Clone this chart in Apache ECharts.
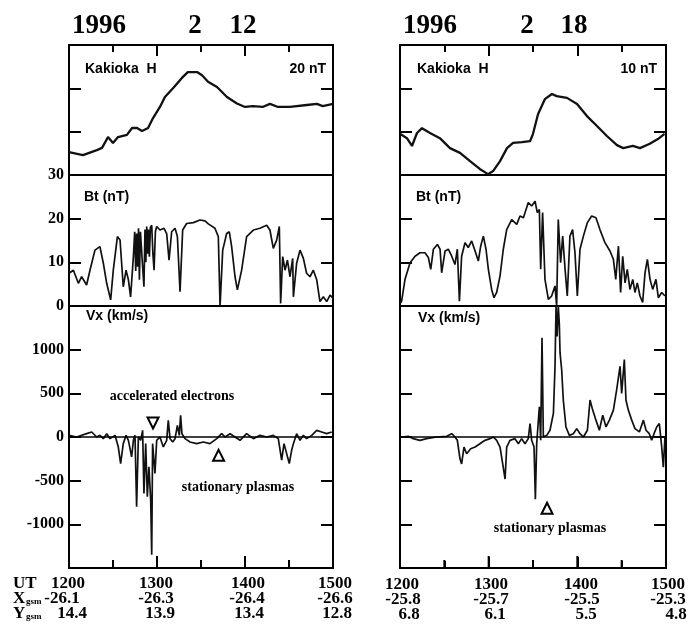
<!DOCTYPE html>
<html>
<head>
<meta charset="utf-8">
<script src="https://cdn.jsdelivr.net/npm/echarts@6/dist/echarts.min.js"></script>
<style>html,body{margin:0;padding:0;background:#fff}#main{width:697px;height:630px}</style>
</head>
<body>
<div id="main"></div>
<script>
// time in minutes after 1200 UT
// Kakioka H, 1996-02-12 (relative nT)
var hTime1 = [0, 9.5, 19, 22.5, 26.6, 30, 33.4, 39.5, 43, 46.4, 49.8, 53.9, 57.3, 62, 65.4, 70.9, 77, 81, 87.3, 90.7, 94.8, 100.9, 107.7, 114.5, 120, 125.4, 132, 137, 142.5, 150.6, 162.2, 169, 173, 180];
var hVal1 = [10.6, 9.2, 11.5, 12.5, 17.5, 14.8, 17.5, 18.5, 21.7, 21.7, 20.3, 21.7, 26.3, 31.4, 36, 40, 44.8, 47.5, 47.5, 46, 43, 40.6, 36, 33, 31.4, 31.8, 31.4, 32.8, 31.4, 31.4, 32.3, 32.8, 31.8, 32.8];
// Kakioka H, 1996-02-18
var hTime2 = [0, 4.7, 8.1, 11.5, 14.9, 20.3, 27, 33.8, 40.6, 47.4, 54, 59.5, 63, 67.7, 72.4, 76.5, 82.6, 88, 90, 93.4, 98, 102.8, 106, 113, 119.8, 126.5, 133.3, 140, 146.8, 151, 157.6, 162.4, 169, 174.5, 179];
var hVal2 = [9.5, 8.5, 6.7, 9.7, 10.8, 9.7, 8.5, 6.2, 5.1, 3.2, 1.4, 0.2, 0.9, 3.2, 6.2, 7.4, 7.6, 7.8, 9.5, 14, 17.5, 18.7, 18.2, 17.8, 16.4, 13.6, 11.3, 9, 6.9, 6.2, 6.7, 6.2, 7.2, 8.3, 9.5];

// Bt (nT)
var btTime1 = [0, 3, 6.4, 8.6, 12, 14.3, 17.7, 21.1, 23.4, 25.7, 28.4, 30.2, 33, 34.8, 37, 38.9, 40.5, 42, 43.9, 44.8, 45.5, 46.1, 46.8, 47.4, 48, 48.7, 49.5, 50.2, 51.1, 51.8, 52.4, 53, 53.6, 54.2, 54.8, 55.5, 56.4, 57.2, 58, 58.9, 59.8, 62, 64.8, 66.6, 68.2, 70, 72.3, 73.9, 75.7, 77.5, 80.2, 84.8, 89.3, 92.7, 95, 99.5, 101.8, 103, 104.8, 107.5, 109.3, 110.9, 113.2, 114.8, 117.7, 121.1, 125.7, 130.2, 134.8, 137, 139.3, 141.6, 143.4, 144.3, 145.7, 147.3, 148.9, 150.7, 152.5, 153, 155.2, 157.5, 159.8, 162, 164.3, 166.6, 168.9, 171.1, 173.4, 175.7, 178, 180];
var btVal1 = [7.5, 8.2, 5.2, 6.7, 4.8, 8.2, 12.8, 13.6, 9.8, 5.2, 1.4, 8.2, 15.9, 15.1, 4.4, 8.2, 6, 2.1, 11.3, 17, 8, 16.6, 9, 17.8, 6, 17, 17.4, 9, 4.4, 17.5, 10, 18.2, 12, 17.5, 11.3, 18, 18.5, 12, 8.2, 17, 18.2, 17.4, 17.8, 16.6, 10.5, 17, 17.8, 15.9, 3.3, 17.4, 18.9, 19.1, 19.7, 19.5, 18.8, 17.8, 15.9, 0, 12.8, 16.6, 17, 13.6, 6.7, 3.7, 8.2, 15.9, 17.4, 17.8, 18.5, 17.4, 13.2, 15.1, 18.2, 0.6, 11.3, 8.2, 10.5, 6.7, 10.9, 2.1, 9.8, 12.8, 10.9, 7.5, 6.7, 8.2, 6, 1, 2.1, 1, 2.5, 1.8];
var btTime2 = [0, 1.1, 3.4, 6.8, 10.2, 13.5, 16.9, 19.2, 20.8, 22.6, 25.3, 27.1, 28.2, 30.5, 32.7, 35, 37.2, 38.8, 40.2, 41.7, 44, 46.2, 48.5, 50.8, 53, 54.6, 56.4, 58.2, 59.8, 62, 63.6, 65.4, 67.7, 69.9, 72.2, 75.6, 79, 81.2, 83.5, 85.3, 86.8, 89.1, 91.4, 92.9, 94.3, 95.2, 96.5, 98.1, 100.4, 102.6, 104.9, 106, 107.1, 108.7, 110.1, 111.7, 113.2, 115, 116.8, 118.4, 120, 121.8, 124.1, 126.8, 129.7, 132.6, 135.3, 138.7, 142.1, 144.4, 146, 147.8, 149.3, 150.7, 152.3, 153.8, 155.6, 157.5, 159, 160.6, 162.4, 164.2, 165.8, 167.4, 169.2, 171, 173.2, 174.8, 177.1, 179.3];
var btVal2 = [0.5, 1.1, 6.1, 9.9, 11.4, 12.2, 12.2, 11.1, 8.4, 13, 14.1, 13, 7.6, 12.6, 13, 11.4, 9.5, 13, 1.1, 11.4, 14.5, 13.4, 14.9, 12.6, 10.3, 13.7, 16, 13, 8.4, 3.8, 1.9, 3.1, 6.9, 13, 17.5, 19.8, 18.7, 20.6, 20.2, 22.1, 23.7, 22.9, 24, 21.4, 22.1, 8.4, 21.4, 6.1, 1.5, 2.3, 4.6, 0, 19.8, 9.9, 16, 8.4, 2.3, 16, 17.5, 12.2, 2.3, 13, 16, 19.1, 20.6, 20.2, 17.5, 14.5, 12.6, 10.7, 6.1, 13.7, 3.1, 11.4, 5.3, 8.4, 3.8, 6.1, 3.1, 5.3, 2.3, 0.8, 7.6, 10.7, 6.1, 3.8, 6.1, 1.9, 3.1, 2.3];

// Vx (km/s)
var vxTime1 = [0, 5.2, 12, 15.5, 18.9, 21.1, 23.4, 25.7, 28, 31.4, 33.6, 35.2, 37, 38.9, 40.5, 42.7, 43.9, 45, 46.1, 47.3, 48.9, 50.2, 51.1, 52.3, 53.4, 54.5, 55.7, 56.4, 57, 58.6, 59.8, 62, 64.3, 66.6, 67.7, 68.9, 70.7, 72.3, 73.9, 75.2, 76.1, 77, 79.1, 82.5, 87, 91.6, 96.1, 100.7, 104.1, 106.4, 109.8, 113.2, 116.6, 121.1, 125.7, 130.2, 134.8, 139.3, 142.7, 145, 146.6, 148.4, 150.2, 151.8, 153, 155.2, 157.5, 159.8, 162, 165.5, 168.9, 172.3, 175.7, 179.1];
var vxVal1 = [19, 0, 38, 57, 0, 19, -19, 38, -19, 19, -114, -304, -76, 19, -38, -228, -38, 19, -798, 0, -38, 76, -646, -76, -684, -342, -722, -1349, -76, -418, -38, 0, -114, -38, 190, -19, -57, -19, 133, 19, 247, 38, -19, -57, -76, -57, -76, -19, 38, 0, 38, 0, -38, 38, -19, 19, 0, 19, -19, -266, -76, -190, -304, -152, -76, 38, -38, 19, -19, 19, 76, 57, 38, 57];
var vxTime2 = [1.1, 5.6, 9, 13.5, 18, 24.8, 31.6, 35, 37.2, 38.8, 40.6, 41.7, 43.3, 45.1, 47.8, 50.8, 54.1, 57.5, 60.9, 63.2, 65.4, 67.7, 69.5, 71.1, 72.2, 74.4, 77.8, 80.1, 82.3, 84.6, 86.8, 88, 89.1, 90.7, 91.6, 92.5, 94.3, 95.2, 96.1, 97, 99.3, 101.5, 103.8, 104.9, 105.6, 106.3, 107.1, 107.8, 108.3, 109.4, 110.5, 112.3, 114.6, 117.3, 119.6, 121.8, 124.1, 126.8, 128.6, 130.4, 132.6, 134.9, 137.2, 139.4, 141.7, 144.4, 146.6, 148.9, 150, 151.8, 152.9, 154.5, 156.8, 159, 162, 164.7, 166.5, 168.7, 170.3, 171.9, 173.7, 175.5, 177.1, 178.2, 179.3];
var vxVal2 = [0, 8, -19, -38, -19, 0, 8, 38, 0, -38, -250, -308, -115, -192, -135, -115, -77, -38, -19, 0, -38, -115, -308, -481, -115, -38, -19, -77, -19, -77, -19, 154, -38, -115, -712, -77, 347, -38, 1136, 0, 19, 77, 270, 809, 1500, 1150, 1500, 1300, 963, 770, 424, 115, 19, 38, 96, 38, 0, 77, 424, 308, 193, 77, 250, 115, 193, 308, 539, 809, 500, 886, 424, 308, 193, 96, 58, 193, 77, 38, -38, 38, 115, 154, -115, -347, 0];

// time ticks along the bottom of the Vx panels (minutes after 1200)
var hourTicks = [60, 120];
var halfHourTicks = [30, 90, 150];

// bottom tick table
var utLabels = ['1200', '1300', '1400', '1500'];
var xgsm1 = ['-26.1', '-26.3', '-26.4', '-26.6'];
var ygsm1 = ['14.4', '13.9', '13.4', '12.8'];
var xgsm2 = ['-25.8', '-25.7', '-25.5', '-25.3'];
var ygsm2 = ['6.8', '6.1', '5.5', '4.8'];

var SERIF = '"Liberation Serif", "DejaVu Serif", serif';
var SANS = '"Liberation Sans", Arial, sans-serif';

var myChart = echarts.init(document.getElementById('main'));

function pairs(t, v) {
    return t.map(function (x, i) { return [x, v[i]]; });
}

var cols = [{ left: 69, width: 264 }, { left: 400, width: 266 }];
var rows = [{ top: 45, height: 130 }, { top: 175, height: 131 }, { top: 306, height: 262 }];
// y ranges: [min, max, interval] per column / row
var yRanges = [
    [[0, 60, 20], [0, 30, 10], [-1500, 1500, 500]],
    [[0, 30, 10], [0, 30, 10], [-1500, 1500, 500]]
];

var grids = [], xAxes = [], yAxes = [];
cols.forEach(function (c, ci) {
    rows.forEach(function (r, ri) {
        var gi = ci * 3 + ri;
        grids.push({
            left: c.left, width: c.width, top: r.top, height: r.height,
            show: true, borderColor: '#000', borderWidth: 2
        });
        xAxes.push({
            gridIndex: gi, type: 'value', min: 0, max: 180, interval: 60,
            position: ri === 2 ? 'bottom' : 'top', z: 10,
            axisLine: { show: false, onZero: false },
            axisTick: { show: ri !== 1, inside: true, length: 11, lineStyle: { color: '#000', width: 2 } },
            minorTick: { show: ri !== 1, splitNumber: 2, length: 7, lineStyle: { color: '#000', width: 2 } },
            axisLabel: { show: false },
            splitLine: { show: false }
        });
        var yr = yRanges[ci][ri];
        ['left', 'right'].forEach(function (pos) {
            var showLab = ci === 0 && pos === 'left' && ri > 0;
            yAxes.push({
                gridIndex: gi, type: 'value', min: yr[0], max: yr[1], interval: yr[2],
                position: pos,
                axisLine: { show: false, onZero: false },
                axisTick: { show: true, inside: true, length: 12, lineStyle: { color: '#000', width: 2 } },
                axisLabel: {
                    show: showLab, margin: 5, color: '#000',
                    fontFamily: SERIF, fontWeight: 'bold', fontSize: 16,
                    formatter: function (v) { return Math.abs(v) === 1500 ? '' : String(v); }
                },
                splitLine: { show: false }
            });
        });
    });
});

function line(gi, data, width) {
    return {
        type: 'line', xAxisIndex: gi, yAxisIndex: gi * 2, data: data,
        showSymbol: false, symbol: 'none', silent: true,
        lineStyle: { color: '#111', width: width || 1.7 }
    };
}

// time ticks standing on the bottom edge of a Vx panel, drawn through the panel's own scales
var MAJOR_LEN = 12, MINOR_LEN = 8;
function bottomTicks(gi) {
    var data = hourTicks.map(function (t) { return [t, 1]; })
        .concat(halfHourTicks.map(function (t) { return [t, 0]; }));
    return {
        type: 'custom', xAxisIndex: gi, yAxisIndex: gi * 2, data: data,
        silent: true, z: 50, clip: false,
        renderItem: function (params, api) {
            var p = api.coord([api.value(0), -1500]);
            var len = api.value(1) ? MAJOR_LEN : MINOR_LEN;
            return {
                type: 'line',
                shape: { x1: p[0], y1: p[1], x2: p[0], y2: p[1] - len },
                style: { stroke: '#000', lineWidth: 2 }
            };
        }
    };
}

var zeroLine = {
    silent: true, symbol: 'none', label: { show: false },
    lineStyle: { color: '#000', width: 1.5, type: 'solid' },
    data: [{ yAxis: 0 }]
};
var triStyle = { color: '#fff', borderColor: '#000', borderWidth: 2 };

var vx1 = line(2, pairs(vxTime1, vxVal1));
vx1.markLine = zeroLine;
vx1.markPoint = {
    symbol: 'triangle', symbolSize: 11, itemStyle: triStyle, label: { show: false },
    data: [{ coord: [57.3, 160], symbolRotate: 180 }, { coord: [102, -210] }]
};
var vx2 = line(5, pairs(vxTime2, vxVal2));
vx2.markLine = zeroLine;
vx2.markPoint = {
    symbol: 'triangle', symbolSize: 11, itemStyle: triStyle, label: { show: false },
    data: [{ coord: [99.5, -816] }]
};

var series = [
    line(0, pairs(hTime1, hVal1), 2.3),
    line(1, pairs(btTime1, btVal1)),
    vx1,
    line(3, pairs(hTime2, hVal2), 2.3),
    line(4, pairs(btTime2, btVal2)),
    vx2,
    bottomTicks(2),
    bottomTicks(5)
];

function txt(x, y, s, font, align) {
    return {
        type: 'text', x: x, y: y, silent: true,
        style: { text: s, font: font, fill: '#000', textAlign: align || 'left', textVerticalAlign: 'middle' }
    };
}

var fTitle = 'bold 27px ' + SERIF;
var fPanel = 'bold 14px ' + SANS;
var fNote = 'bold 14px ' + SERIF;
var fRow = 'bold 17px ' + SERIF;
var fSub = 'bold 9px ' + SERIF;

var graphics = [
    txt(72, 26, '1996', fTitle), txt(195, 26, '2', fTitle, 'center'), txt(243, 26, '12', fTitle, 'center'),
    txt(403, 26, '1996', fTitle), txt(527, 26, '2', fTitle, 'center'), txt(574, 26, '18', fTitle, 'center'),
    txt(85, 69, 'Kakioka  H', fPanel), txt(326, 69, '20 nT', fPanel, 'right'),
    txt(417, 69, 'Kakioka  H', fPanel), txt(657, 69, '10 nT', fPanel, 'right'),
    txt(84, 197, 'Bt (nT)', fPanel), txt(416, 197, 'Bt (nT)', fPanel),
    txt(86, 316, 'Vx (km/s)', fPanel), txt(418, 318, 'Vx (km/s)', fPanel),
    txt(172, 396, 'accelerated electrons', fNote, 'center'),
    txt(238, 487, 'stationary plasmas', fNote, 'center'),
    txt(550, 528, 'stationary plasmas', fNote, 'center'),
    txt(13, 584, 'UT', fRow),
    txt(13, 599, 'X', fRow), txt(26, 602, 'gsm', fSub),
    txt(13, 614, 'Y', fRow), txt(26, 617, 'gsm', fSub)
];
var leftX = [[68, 156, 248, 335], [62, 156, 247, 335], [72, 160, 249, 337]];
var rightX = [[402, 491, 581, 668], [403, 491, 582, 668], [409, 495, 586, 676]];
var rowY = [584, 599, 614];
[utLabels, xgsm1, ygsm1].forEach(function (arr, k) {
    arr.forEach(function (s, i) { graphics.push(txt(leftX[k][i], rowY[k], s, fRow, 'center')); });
});
[utLabels, xgsm2, ygsm2].forEach(function (arr, k) {
    arr.forEach(function (s, i) { graphics.push(txt(rightX[k][i], rowY[k] + 1, s, fRow, 'center')); });
});

myChart.setOption({
    animation: false,
    backgroundColor: '#fff',
    grid: grids,
    xAxis: xAxes,
    yAxis: yAxes,
    series: series,
    graphic: graphics
});
</script>
</body>
</html>
